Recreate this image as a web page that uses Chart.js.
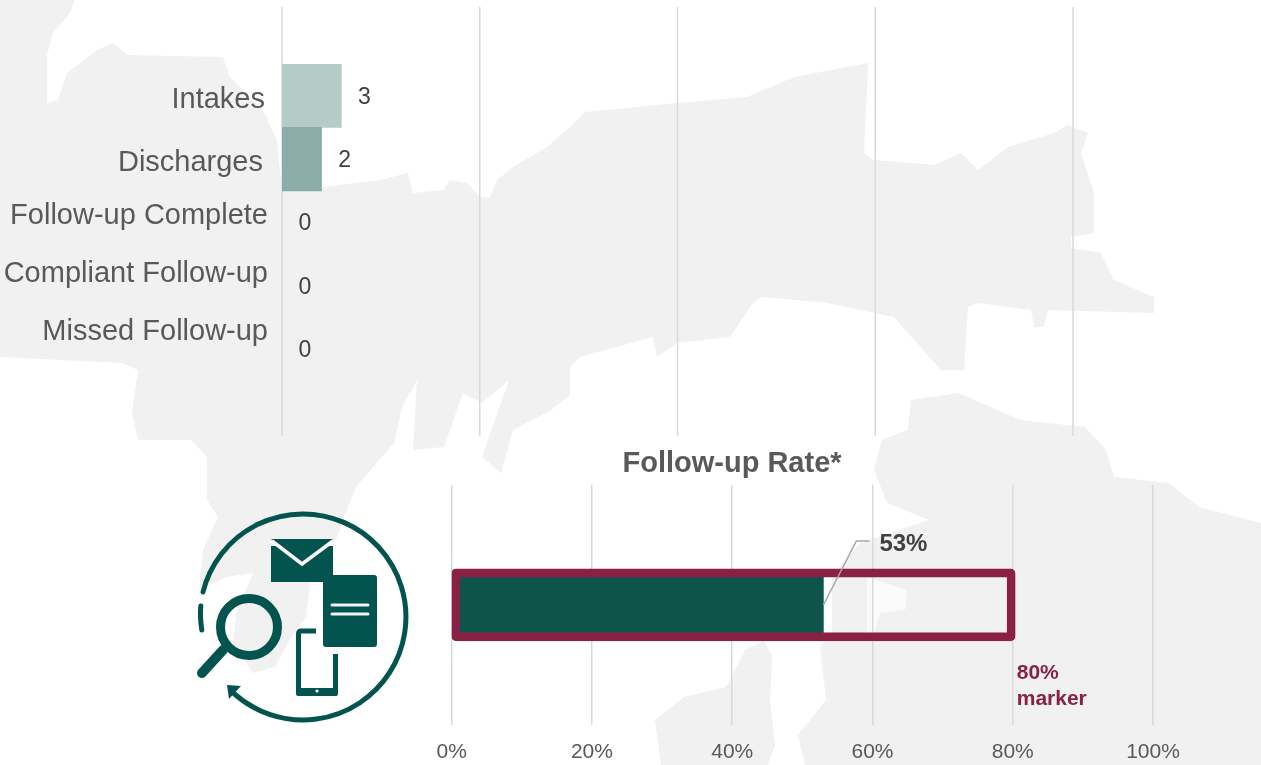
<!DOCTYPE html>
<html>
<head>
<meta charset="utf-8">
<script src="https://cdn.jsdelivr.net/npm/chart.js@4"></script>
<style>
  html, body { margin: 0; padding: 0; background: #fff; overflow: hidden; }
  #page { position: relative; width: 1261px; height: 765px; }
  #page svg, #page canvas { position: absolute; }
</style>
</head>
<body>
<div id="page">
  <svg width="1261" height="765" style="left:0;top:0">
    <!-- faded map behind the charts -->
    <g fill="#f1f1f1">
      <polygon points="0,0 75,0 70,13 53,33 47,55 47,103 58,100 67,73 97,50 113,43 127,55 223,57 230,77 263,110 277,140 282,191 322,187 380,180 408,173 413,193 443,190 450,180 467,183 480,197 490,197 497,180 513,167 547,147 570,127 585,112 677,103 747,97 794,77 868,63 864,153 874,160 934,165 961,153 978,170 1008,147 1054,133 1068,125 1088,133 1081,153 1094,193 1094,233 1071,237 1071,248 1101,253 1114,280 1154,297 1154,313 1118,312 1048,310 1044,327 1034,327 1031,310 978,303 968,307 964,370 941,370 908,333 894,317 874,313 828,303 761,297 753,303 730,337 677,343 657,357 653,337 580,357 570,367 570,395 551,410 513,430 501,473 482,457 509,380 482,403 463,393 444,447 413,450 417,380 402,407 394,443 356,487 344,517 337,537 310,583 306,617 291,637 275,667 253,673 233,643 237,610 253,573 226,577 199,590 203,550 218,517 207,500 207,457 191,440 138,440 132,413 138,370 122,363 0,357"/>
      <polygon points="958,393 911,400 908,430 882,440 874,470 887,503 929,520 860,543 832,577 832,633 820,647 826,700 798,735 805,765 1261,765 1261,523 1199,507 1169,483 1114,477 1106,450 1085,427 1021,420"/>
      <polygon points="764,641 772,655 770,700 775,745 768,765 661,765 655,720 684,697 726,687 745,650"/>
    </g>
    <polygon points="867,577 907,590 905,610 880,613 872,640 867,640" fill="#fbfbfb"/>
    <!-- follow-up icon -->
    <g fill="none" stroke="#03534f" stroke-width="5" stroke-linecap="round">
      <path d="M203 592 A103 103 0 1 1 233.8 693.3"/>
      <path d="M200.8 606 Q199.8 617 201.8 630"/>
      <circle cx="249" cy="627" r="28.5" stroke-width="9"/>
      <path d="M223 650 L202 673" stroke-width="10"/>
      <path d="M316 631 H301 Q298.5 631 298.5 634 V691 Q298.5 693.5 301 693.5 H333 Q335.5 693.5 335.5 691 V654" stroke-linecap="butt"/>
    </g>
    <g fill="#03534f">
      <polygon points="227,685 241,686 229,699"/>
      <rect x="271" y="546" width="62" height="36"/>
      <polygon points="271,539 333,539 302,562" fill="#03534f"/>
      <rect x="323" y="575" width="54" height="72" rx="3"/>
      <rect x="296" y="688" width="42" height="8" rx="2"/>
    </g>
    <path d="M272 541 L302 564 L333 541" fill="none" stroke="#fff" stroke-width="3.5"/>
    <path d="M332 605 H368 M332 614 H368" stroke="#f4f4f4" stroke-width="3" stroke-linecap="round"/>
    <circle cx="317" cy="691" r="1.6" fill="#fff"/>
  </svg>
  <canvas id="countsChart" width="1261" height="445" style="left:0;top:0"></canvas>
  <canvas id="rateChart" width="950" height="320" style="left:311px;top:445px"></canvas>
</div>

<script>
const categories = ['Intakes', 'Discharges', 'Follow-up Complete', 'Compliant Follow-up', 'Missed Follow-up'];
const counts = [3, 2, 0, 0, 0];
const countTicks = [0, 10, 20, 30, 40];

const rateLabel = ['Follow-up Rate'];
const rateValues = [53];
const markerValues = [80];
const rateTicks = [0, 20, 40, 60, 80, 100];

// the row labels sit in their own box in the original, they do not line up with the bars
const labelRightEdge = [265, 263, 268, 268, 268];
const labelCentreY = [100, 163, 216, 274, 332];

const FONT = '"Liberation Sans", Arial, sans-serif';
const GRID = '#d9d9d9';
Chart.defaults.font.family = FONT;
Chart.defaults.animation = false;

const countsOverlay = {
    id: 'countsOverlay',
    beforeDatasetsDraw(chart) {
        const ctx = chart.ctx, x = chart.scales.x;
        ctx.save();
        ctx.strokeStyle = GRID;
        ctx.lineWidth = 1.5;
        countTicks.forEach(t => {
            const px = x.getPixelForValue(t);
            ctx.beginPath();
            ctx.moveTo(px, 7);
            ctx.lineTo(px, 436);
            ctx.stroke();
        });
        ctx.restore();
    },
    afterDatasetsDraw(chart) {
        const ctx = chart.ctx, x = chart.scales.x, y = chart.scales.y;
        ctx.save();
        ctx.textBaseline = 'middle';
        ctx.font = '29px ' + FONT;
        ctx.fillStyle = '#595959';
        ctx.textAlign = 'right';
        categories.forEach((c, i) => ctx.fillText(c, labelRightEdge[i], labelCentreY[i]));
        ctx.font = '23px ' + FONT;
        ctx.fillStyle = '#404040';
        ctx.textAlign = 'center';
        counts.forEach((v, i) => ctx.fillText(v, x.getPixelForValue(v) + 23, y.getPixelForValue(i) + 1.5));
        ctx.restore();
    }
};

new Chart(document.getElementById('countsChart'), {
    type: 'bar',
    data: {
        labels: categories,
        datasets: [{
            data: counts,
            backgroundColor: ['#b5cbc7', '#8badaa', 'transparent', 'transparent', 'transparent'],
            categoryPercentage: 1,
            barPercentage: 1
        }]
    },
    options: {
        indexAxis: 'y',
        responsive: false,
        layout: { padding: { left: 282, right: 188, top: 64, bottom: 64 } },
        plugins: { legend: { display: false }, tooltip: { enabled: false } },
        scales: {
            x: { display: false, min: 0, max: 40, ticks: { stepSize: 10 } },
            y: { display: false }
        }
    },
    plugins: [countsOverlay]
});

const rateOverlay = {
    id: 'rateOverlay',
    afterDatasetsUpdate(chart) {
        // the original strokes the 80% box a little past its gridline
        const box = chart.getDatasetMeta(0).data[0];
        box.x += 2.5;
        box.base -= 1;
    },
    afterDatasetsDraw(chart) {
        const ctx = chart.ctx, x = chart.scales.x;
        const end = x.getPixelForValue(rateValues[0]);
        const mark = x.getPixelForValue(markerValues[0]);
        ctx.save();
        ctx.strokeStyle = '#a6a6a6';
        ctx.lineWidth = 1.5;
        ctx.beginPath();
        ctx.moveTo(end, 160);
        ctx.lineTo(end + 33, 96);
        ctx.lineTo(end + 46, 96);
        ctx.stroke();
        ctx.textBaseline = 'middle';
        ctx.font = 'bold 24px ' + FONT;
        ctx.fillStyle = '#404040';
        ctx.fillText(rateValues[0] + '%', end + 56, 99);
        ctx.font = 'bold 21px ' + FONT;
        ctx.fillStyle = '#8b2045';
        ctx.fillText(markerValues[0] + '%', mark + 4, 228);
        ctx.fillText('marker', mark + 4, 254);
        ctx.restore();
    }
};

new Chart(document.getElementById('rateChart'), {
    type: 'bar',
    data: {
        labels: rateLabel,
        datasets: [{
            data: markerValues,
            backgroundColor: 'rgba(0,0,0,0)',
            borderColor: '#8b2045',
            borderWidth: 8,
            borderRadius: 5,
            borderSkipped: false,
            barThickness: 72,
            grouped: false
        }, {
            data: rateValues,
            backgroundColor: '#0e544b',
            barThickness: 58,
            grouped: false
        }]
    },
    options: {
        indexAxis: 'y',
        responsive: false,
        layout: { padding: { right: 108 } },
        plugins: {
            legend: { display: false },
            tooltip: { enabled: false },
            title: {
                display: true,
                text: 'Follow-up Rate*',
                color: '#595959',
                font: { size: 29, weight: 'bold' },
                padding: { top: 2, bottom: 3 }
            }
        },
        scales: {
            x: {
                min: 0,
                max: 100,
                afterBuildTicks(scale) { scale.ticks = rateTicks.map(v => ({ value: v })); },
                afterFit(scale) { scale.height = 40; },
                border: { display: false },
                grid: { color: GRID, lineWidth: 1.5, drawTicks: false },
                ticks: { color: '#595959', font: { size: 21 }, padding: 15, maxRotation: 0, callback: v => v + '%' }
            },
            y: {
                afterFit(scale) { scale.width = 140.7; },
                border: { display: false },
                grid: { display: false },
                ticks: { display: false }
            }
        }
    },
    plugins: [rateOverlay]
});
</script>
</body>
</html>
